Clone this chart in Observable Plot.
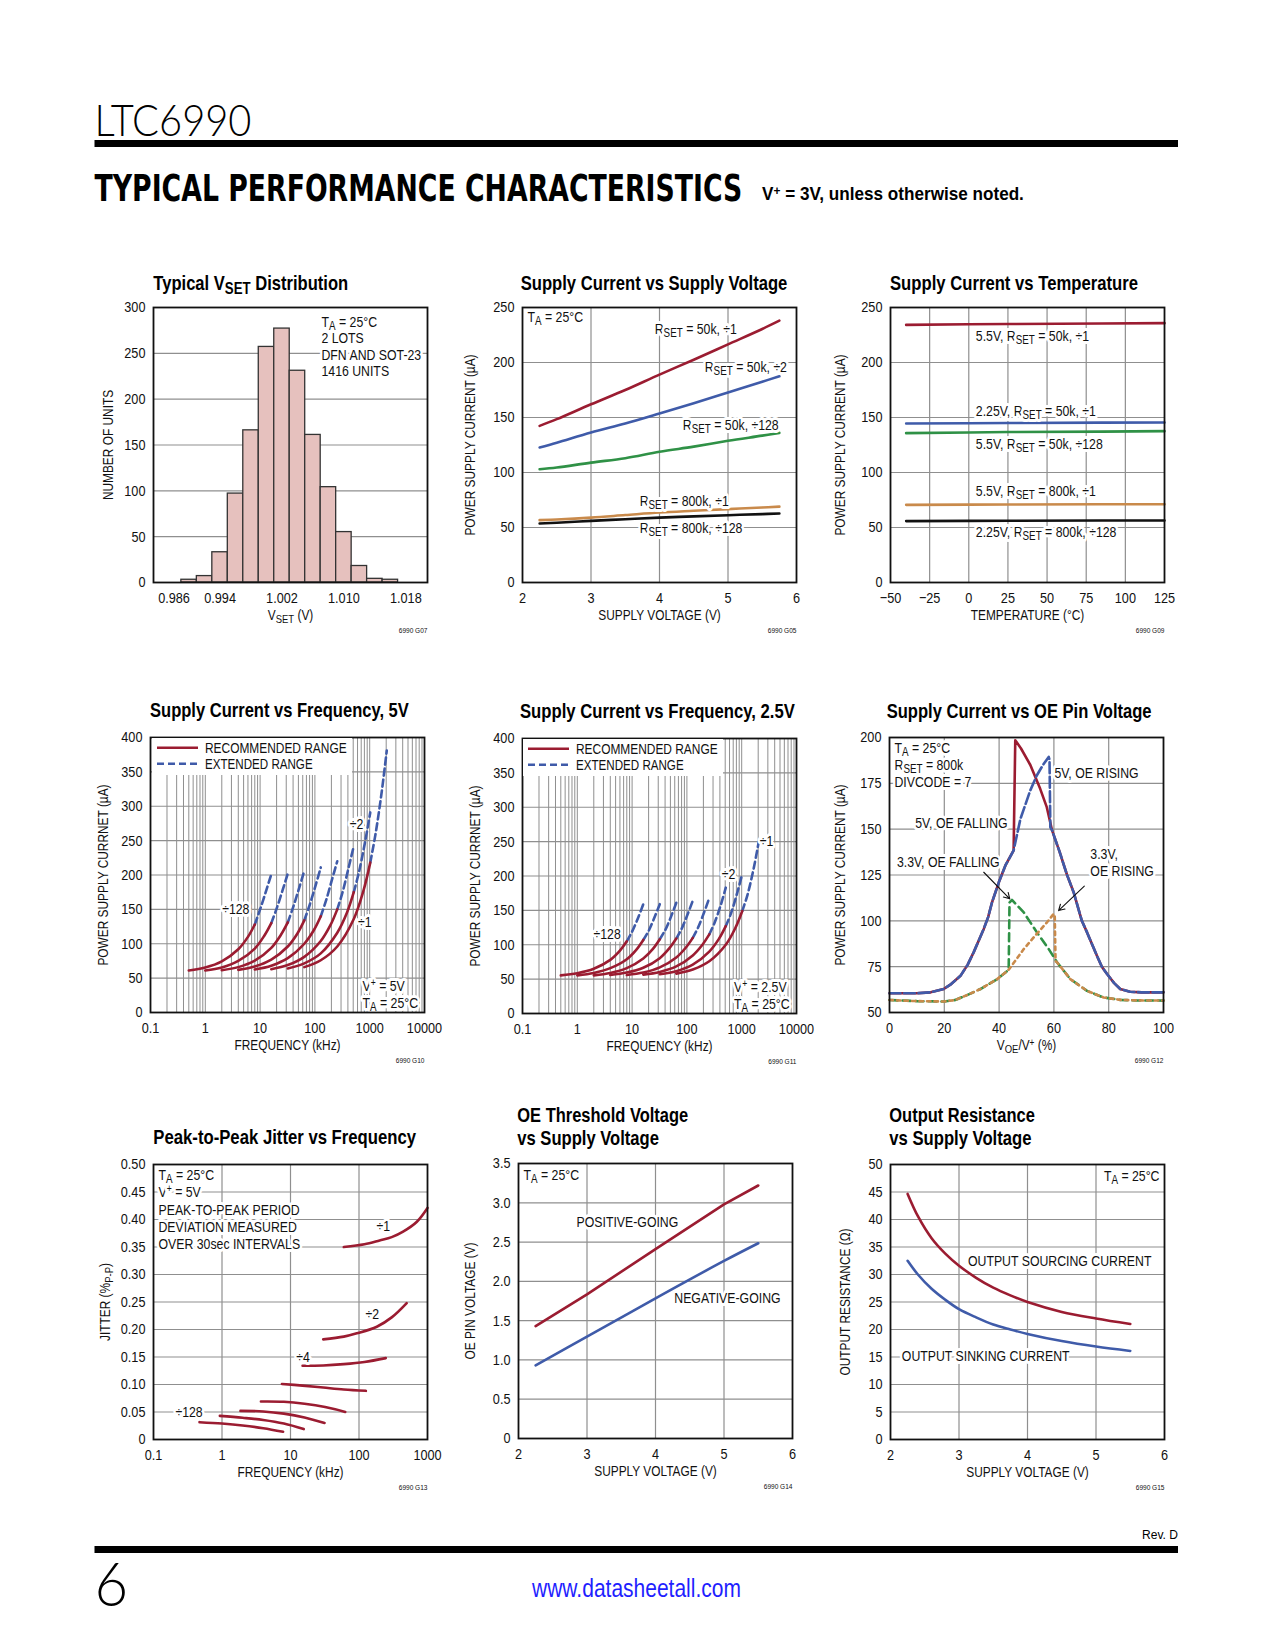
<!DOCTYPE html>
<html>
<head>
<meta charset="utf-8">
<script src="https://cdn.jsdelivr.net/npm/d3@7"></script>
<script src="https://cdn.jsdelivr.net/npm/@observablehq/plot@0.6"></script>
<style>
  html, body { margin: 0; padding: 0; background: #fff; }
  #page { position: relative; width: 1275px; height: 1650px; overflow: hidden; background: #fff;
          font-family: 'Liberation Sans', Arial, sans-serif; color: #111; }
  .legend { position: absolute; background: #fff; }
</style>
</head>
<body>
<div id="page"></div>
<script>
// ---------------- DATA ----------------
// G07 Typical VSET distribution
const vsetBinStart = [0.989, 0.991, 0.993, 0.995, 0.997, 0.999, 1.001, 1.003, 1.005, 1.007, 1.009, 1.011, 1.013, 1.015];
const vsetCount    = [3, 7, 33, 97, 166, 257, 277, 231, 161, 104, 55, 18, 4, 3];
const vsetBinWidth = 0.002;
const vsetTicks    = [0.986, 0.994, 1.002, 1.010, 1.018];
const histYTicks   = [0, 50, 100, 150, 200, 250, 300];

// G05 Supply current vs supply voltage
const supplyV      = [2.25, 2.5, 3, 3.5, 4, 4.5, 5, 5.5, 5.75];
const i50kDiv1     = [142.4, 148.5, 162, 175, 189, 202.5, 216.5, 230.5, 238];
const i50kDiv2     = [122.7, 127, 136.4, 144.5, 153.6, 163, 172.7, 182.5, 187.5];
const i50kDiv128   = [103, 104.5, 109, 113, 118.8, 123.5, 128.8, 133.5, 136];
const i800kDiv1    = [56.7, 57.3, 59, 61.3, 63.6, 65.2, 66.7, 68.2, 69];
const i800kDiv128  = [53.6, 54.3, 56, 57.5, 59, 60.1, 61.2, 62.2, 62.7];
const svXTicks = [2, 3, 4, 5, 6];
const svYTicks = [0, 50, 100, 150, 200, 250];

// G09 Supply current vs temperature
const tempC        = [-40, 0, 25, 85, 125];
const t55v50kDiv1  = [234.2, 234.8, 235, 235.5, 235.8];
const t225v50kDiv1 = [144.5, 144.8, 145, 145.3, 145.5];
const t55v50kDiv128= [135.8, 136.4, 136.8, 137.2, 137.6];
const t55v800kDiv1 = [70.6, 70.8, 70.9, 71.1, 71.2];
const t225v800kDiv128 = [55.8, 56, 56.1, 56.3, 56.4];
const tempXTicks = [-50, -25, 0, 25, 50, 75, 100, 125];

// G10 / G11 Supply current vs frequency
const divCodes = ["÷128", "÷64", "÷32", "÷16", "÷8", "÷4", "÷2", "÷1"];
const freqRec = [
  [0.5, 1, 2, 4, 6, 8], [1, 2, 4, 8, 12, 16], [2, 4, 8, 16, 24, 32], [4, 8, 16, 32, 48, 64],
  [8, 16, 32, 64, 96, 128], [16, 32, 64, 128, 192, 256], [32, 64, 128, 256, 384, 512], [64, 128, 256, 512, 768, 1024]
];
const freqExt = [
  [8, 10, 13, 16], [16, 20, 26, 32], [32, 40, 52, 64], [64, 80, 104, 128],
  [128, 160, 208, 256], [256, 320, 416, 512], [512, 640, 832, 1024], [1024, 1280, 1664, 2048]
];
const i5VRec = [
  [61, 65.5, 74.5, 92, 110, 128], [61, 65.5, 75, 93, 112, 130], [61.5, 66, 75.5, 94, 113, 131], [62, 67, 77, 96, 115, 134],
  [62.5, 68, 79, 100, 120, 140], [63, 69, 81, 104, 127, 150], [64, 71.5, 86, 116, 145, 175], [66, 76, 96, 136, 177, 218]
];
const i5VExt = [
  [128, 150, 178, 201], [130, 151, 179, 202], [131, 153, 182, 206], [134, 156, 186, 211],
  [140, 163, 195, 220], [150, 175, 212, 242], [175, 205, 250, 291], [218, 260, 322, 381]
];
const i25VRec = [
  [55.5, 58.5, 65, 78, 91.5, 105], [55.5, 59, 66, 79, 93, 107], [55.5, 59, 66, 80, 94, 108], [56, 59.5, 66.5, 80.5, 95, 109],
  [56, 59.5, 67, 81.5, 96, 110], [56.5, 60.5, 68.5, 84.5, 100, 115], [57, 61.5, 71, 90, 108.5, 127], [58, 64, 76, 100, 124.5, 149]
];
const i25VExt = [
  [105, 119, 140, 159], [107, 120, 141, 159], [108, 121, 142, 161], [109, 123, 145, 164],
  [110, 125, 148, 168], [115, 132, 158, 183], [127, 146, 176, 203], [149, 173, 212, 250]
];
const freqXTicks = [0.1, 1, 10, 100, 1000, 10000];
const freqYTicks = [0, 50, 100, 150, 200, 250, 300, 350, 400];

// G12 Supply current vs OE pin voltage
const oe5FallX = [0, 10, 15, 19.8, 22.5, 25.9, 28.5, 30.7, 32.5, 34.4, 36, 37.4, 39.9, 42.3, 45.3, 45.9, 48, 51.4, 55, 57.4, 59.3, 62, 64.8, 67.2, 70.2, 72.1, 75.7, 77.5, 79.4, 82, 84.2, 87.8, 92, 100];
const oe5FallI = [60.5, 60.5, 61, 62.8, 65.5, 70, 76, 82.8, 89, 95.6, 102, 110, 121, 130.2, 138.4, 198.5, 194, 185, 172, 162, 149.5, 138, 125, 115.6, 100, 93.7, 81, 75, 71, 66, 62.8, 61.3, 61, 61];
const oe5RiseX = [0, 10, 15, 19.8, 22.5, 25.9, 28.5, 30.7, 32.5, 34.4, 36, 37.4, 39.9, 42.3, 45.3, 47.8, 51.4, 53.8, 56, 58.1, 58.4, 58.7, 59.3, 62, 64.8, 67.2, 70.2, 72.1, 75.7, 77.5, 79.4, 82, 84.2, 87.8, 92, 100];
const oe5RiseI = [60.5, 60.5, 61, 62.8, 65.5, 70, 76, 82.8, 89, 95.6, 102, 110, 121, 130.2, 138.4, 155.7, 171.2, 179.4, 185, 189.4, 188, 151, 149.5, 138, 125, 115.6, 100, 93.7, 81, 75, 71, 66, 62.8, 61.3, 61, 61];
const oe33FallX = [0, 10, 20, 24, 28.3, 33.2, 39.3, 43.1, 43.5, 43.8, 44.7, 49, 53.8, 58.1, 61.2, 66, 72.1, 78.1, 84.2, 90, 100];
const oe33FallI = [56.8, 56.2, 56, 56.8, 59.5, 62.8, 68.2, 72.8, 73.5, 110, 111.4, 104.6, 93.7, 84.6, 77.3, 68.2, 61.8, 58.2, 56.9, 56.6, 56.5];
const oe33RiseX = [0, 10, 20, 24, 28.3, 33.2, 39.3, 43.1, 43.7, 49, 53.8, 57.5, 59.9, 60.3, 60.6, 61.2, 66, 72.1, 78.1, 84.2, 90, 100];
const oe33RiseI = [56.8, 56.2, 56, 56.8, 59.5, 62.8, 68.2, 72.8, 73.7, 84.6, 93, 99.2, 103.8, 103, 78, 77.3, 68.2, 61.8, 58.2, 56.9, 56.6, 56.5];
const oeXTicks = [0, 20, 40, 60, 80, 100];
const oeYTicks = [50, 75, 100, 125, 150, 175, 200];

// G13 Peak-to-peak jitter vs frequency
const jitDivs = ["÷128", "÷64", "÷32", "÷16", "÷8", "÷4", "÷2", "÷1"];
const jitFreq = [
  [0.47, 1, 2, 4, 7.8], [0.93, 2, 4, 8, 15.6], [1.86, 4, 8, 16, 31.4], [3.7, 8, 16, 32, 63],
  [7.5, 15, 30, 60, 126], [15, 30, 60, 120, 246], [30, 60, 93, 182, 300, 497], [60, 120, 200, 300, 440, 700, 1000]
];
const jitVal = [
  [0.0315, 0.029, 0.0255, 0.0205, 0.014], [0.043, 0.0395, 0.0355, 0.029, 0.019], [0.052, 0.051, 0.047, 0.040, 0.030],
  [0.069, 0.0685, 0.065, 0.059, 0.050], [0.101, 0.098, 0.0945, 0.091, 0.0885], [0.134, 0.1345, 0.137, 0.141, 0.148],
  [0.182, 0.187, 0.193, 0.205, 0.222, 0.248], [0.350, 0.355, 0.362, 0.368, 0.378, 0.396, 0.421]
];
const jitXTicks = [0.1, 1, 10, 100, 1000];
const jitYTicks = [0, 0.05, 0.10, 0.15, 0.20, 0.25, 0.30, 0.35, 0.40, 0.45, 0.50];

// G14 OE threshold voltage vs supply voltage
const oeThV   = [2.25, 3, 4, 5, 5.5];
const oePos   = [1.43, 1.835, 2.41, 2.98, 3.22];
const oeNeg   = [0.93, 1.296, 1.784, 2.26, 2.485];
const oeThYTicks = [0, 0.5, 1.0, 1.5, 2.0, 2.5, 3.0, 3.5];

// G15 Output resistance vs supply voltage
const rV      = [2.25, 2.4, 2.6, 2.8, 3.0, 3.25, 3.5, 3.75, 4.0, 4.5, 5.0, 5.5];
const rSource = [44.65, 40.6, 36.6, 33.8, 31.6, 29.4, 27.6, 26.2, 25.0, 23.2, 22.0, 21.0];
const rSink   = [32.5, 30.0, 27.4, 25.4, 23.7, 22.2, 20.9, 20.0, 19.2, 17.9, 16.9, 16.1];
const rYTicks = [0, 5, 10, 15, 20, 25, 30, 35, 40, 45, 50];

// annotations (data units)
const vsetNote = [{x: 1.0071, y: 292, text: "T_{A} = 25°C\n2 LOTS\nDFN AND SOT-23\n1416 UNITS"}];
const svLabels = [
  {x: 3.93, y: 230, text: "R_{SET} = 50k, ÷1"},
  {x: 4.66, y: 195.5, text: "R_{SET} = 50k, ÷2"},
  {x: 4.34, y: 143, text: "R_{SET} = 50k, ÷128"},
  {x: 3.71, y: 74, text: "R_{SET} = 800k, ÷1"},
  {x: 3.71, y: 49, text: "R_{SET} = 800k, ÷128"}
];
const tempLabels = [
  {x: 4.5, y: 224, text: "5.5V, R_{SET} = 50k, ÷1"},
  {x: 4.5, y: 156, text: "2.25V, R_{SET} = 50k, ÷1"},
  {x: 4.5, y: 126, text: "5.5V, R_{SET} = 50k, ÷128"},
  {x: 4.5, y: 82.7, text: "5.5V, R_{SET} = 800k, ÷1"},
  {x: 4.5, y: 45.5, text: "2.25V, R_{SET} = 800k, ÷128"}
];
const f5Labels = [{x: 3.6, y: 150, text: "÷128"}, {x: 573, y: 274, text: "÷2"}, {x: 811, y: 131, text: "÷1"}];
const f25Labels = [{x: 3.5, y: 116, text: "÷128"}, {x: 573, y: 202, text: "÷2"}, {x: 2850, y: 250, text: "÷1"}];
const oeLabelsStart = [
  {x: 60.2, y: 180.9, text: "5V, OE RISING"},
  {x: 73.3, y: 132.3, text: "3.3V,\nOE RISING"}
];
const oeLabelsEnd = [
  {x: 43.1, y: 153.5, text: "5V, OE FALLING"},
  {x: 40.2, y: 132, text: "3.3V, OE FALLING"}
];
const oeArrows = [
  {x1: 34.4, y1: 126.5, x2: 43.9, y2: 112},
  {x1: 71.1, y1: 118.9, x2: 61.7, y2: 105.6}
];
const jitLabels = [
  {x: 226, y: 0.388, text: "÷1"}, {x: 157, y: 0.228, text: "÷2"},
  {x: 15.2, y: 0.150, text: "÷4"}, {x: 0.33, y: 0.050, text: "÷128"}
];
const oeThLabels = [{x: 3.59, y: 2.75, text: "POSITIVE-GOING"}, {x: 5.05, y: 1.79, text: "NEGATIVE-GOING"}];
const rLabels = [{x: 4.47, y: 32.5, text: "OUTPUT SOURCING CURRENT"}, {x: 3.39, y: 15.2, text: "OUTPUT SINKING CURRENT"}];

// ---------------- STYLE / HELPERS ----------------
const FONT = "'Liberation Sans', Arial, sans-serif";
const NARROW = 0.82;   // Arial -> Arial Narrow horizontal ratio
const RED = "#9b1c31", BLUE = "#3f5ba9", GREEN = "#2f9146", ORANGE = "#c98a4b", BLACK = "#111", GRID = "#8f8f8f";
const ML = 64, MR = 16, MT = 12, MB = 62, FW = 274, FH = 275;
const page = document.getElementById("page");
const halo = {fill: "#111", stroke: "white", strokeWidth: 6, paintOrder: "stroke", strokeLinejoin: "round", fontSize: 15};
const haloBig = {...halo, strokeWidth: 6};
const lw = 2.6;
const SVGNS = "http://www.w3.org/2000/svg";

// convert _{..} / ^{..} markup into shifted tspans (element must be in the DOM)
function richText(root) {
  root.querySelectorAll("text, tspan").forEach(el => {
    if (el.children.length) return;
    const s = el.textContent;
    if (!/[_^]\{/.test(s)) return;
    const fs = parseFloat(getComputedStyle(el).fontSize) || 14;
    el.textContent = "";
    let offset = 0, last = 0, m;
    const add = (txt, shift, small) => {
      const t = document.createElementNS(SVGNS, "tspan");
      const dy = shift - offset;
      if (dy !== 0) t.setAttribute("dy", dy.toFixed(2));
      if (small) t.setAttribute("font-size", (fs * small).toFixed(2) + "px");
      t.textContent = txt;
      el.appendChild(t);
      offset = shift;
    };
    const re = /([_^])\{([^}]*)\}/g;
    while ((m = re.exec(s))) {
      if (m.index > last) add(s.slice(last, m.index), 0, 0);
      if (m[1] === "_") add(m[2], 0.2 * fs, 0.8);
      else add(m[2], -0.32 * fs, 0.7);
      last = re.lastIndex;
    }
    if (last < s.length) add(s.slice(last), 0, 0);
  });
}
// horizontally condense text about its anchor point
function condense(el, s) {
  const x = parseFloat(el.getAttribute("x")) || 0, y = parseFloat(el.getAttribute("y")) || 0;
  const tr = el.getAttribute("transform") || "";
  el.setAttribute("transform", `${tr} translate(${x},${y}) scale(${s},1) translate(${-x},${-y})`);
}
function fitWidth(el, target) {
  const w = el.getComputedTextLength();
  if (w > 0) condense(el, target / w);
}

function decoMarks(xlab, ylab, yoff, id) {
  return [
    Plot.text([xlab], {frameAnchor: "bottom", dy: 33, text: d => d, textAnchor: "middle", lineAnchor: "middle", fontSize: 14.5, fill: "#111"}),
    Plot.text([ylab], {frameAnchor: "left", dx: -yoff, rotate: -90, text: d => d, textAnchor: "middle", lineAnchor: "middle", fontSize: 14.5, fill: "#111"}),
    Plot.text([id], {frameAnchor: "bottom-right", dy: 48, text: d => d, textAnchor: "end", lineAnchor: "middle", fontSize: 8, fill: "#111"}),
    Plot.frame({stroke: "#111", strokeWidth: 1.8})
  ];
}

function chart(frameL, frameT, opts, marks, deco) {
  const svg = Plot.plot({
    width: ML + FW + MR, height: MT + FH + MB,
    marginLeft: ML, marginRight: MR, marginTop: MT, marginBottom: MB,
    style: {fontFamily: FONT, fontSize: "15.5px", color: "#111", background: "transparent", overflow: "visible", maxWidth: "none"},
    ...opts,
    marks: [...marks, ...decoMarks(...deco)]
  });
  svg.style.position = "absolute";
  svg.style.left = (frameL - ML) + "px";
  svg.style.top = (frameT - MT) + "px";
  page.appendChild(svg);
  richText(svg);
  svg.querySelectorAll("text").forEach(t => condense(t, NARROW));
  return svg;
}
const axX = (ticks, fmt) => ({ticks, tickSize: 0, tickPadding: 9, label: null, ...(fmt ? {tickFormat: fmt} : {})});
const axY = (ticks, fmt) => ({ticks, tickSize: 0, tickPadding: 8, label: null, ...(fmt ? {tickFormat: fmt} : {})});
const gridStyle = {stroke: GRID, strokeWidth: 1.2};
const inner = arr => arr.slice(1, -1);
const plain = d => String(d);

function seriesRows(xs, ys) { return xs.map((x, i) => ({x, y: ys[i]})); }
function freqRows(freqs, currents) {
  return divCodes.flatMap((div, i) => freqs[i].map((f, j) => ({div, f, I: currents[i][j]})));
}

// ---------------- CHROME (header, titles, footer) ----------------
const titles = [
  {x: 153.3, y: 290, L: 195, t: "Typical V_{SET} Distribution"},
  {x: 520.7, y: 290, L: 267, t: "Supply Current vs Supply Voltage"},
  {x: 890, y: 290, L: 248, t: "Supply Current vs Temperature"},
  {x: 150, y: 717.5, L: 259, t: "Supply Current vs Frequency, 5V"},
  {x: 520, y: 718.5, L: 275, t: "Supply Current vs Frequency, 2.5V"},
  {x: 886.7, y: 718, L: 265, t: "Supply Current vs OE Pin Voltage"},
  {x: 153.3, y: 1144, L: 263, t: "Peak-to-Peak Jitter vs Frequency"},
  {x: 517.3, y: 1122.3, L: 171, t: "OE Threshold Voltage"},
  {x: 517.3, y: 1145, L: 141.7, t: "vs Supply Voltage"},
  {x: 889.3, y: 1122.3, L: 145.7, t: "Output Resistance"},
  {x: 889.3, y: 1145, L: 142.3, t: "vs Supply Voltage"}
];
const chrome = document.createElementNS(SVGNS, "svg");
chrome.setAttribute("width", 1275); chrome.setAttribute("height", 1650);
chrome.style.cssText = "position:absolute;left:0;top:0";
page.appendChild(chrome);
function chromeText(x, y, str, attrs, width) {
  const t = document.createElementNS(SVGNS, "text");
  t.setAttribute("x", x); t.setAttribute("y", y);
  t.setAttribute("font-family", FONT);
  for (const [k, v] of Object.entries(attrs)) t.setAttribute(k, v);
  t.textContent = str;
  chrome.appendChild(t);
  richText(chrome);
  if (width) fitWidth(t, width);
  return t;
}
function chromeRect(x, y, w, h) {
  const r = document.createElementNS(SVGNS, "rect");
  r.setAttribute("x", x); r.setAttribute("y", y); r.setAttribute("width", w); r.setAttribute("height", h);
  r.setAttribute("fill", "#000");
  chrome.appendChild(r);
}
chromeText(94.5, 136.5, "LTC6990", {"font-family": "Lato, 'DejaVu Sans', sans-serif", "font-weight": 300, "font-size": 44}, 157);
chromeRect(94.5, 140, 1083.5, 7);
chromeText(94.5, 201.5, "TYPICAL PERFORMANCE CHARACTERISTICS", {"font-family": "'DejaVu Sans', sans-serif", "font-weight": "bold", "font-size": 37}, 648);
chromeText(762, 200.5, "V^{+} = 3V, unless otherwise noted.", {"font-weight": "bold", "font-size": 18}, 262);
titles.forEach(d => chromeText(d.x, d.y, d.t, {"font-weight": "bold", "font-size": 20}, d.L));
chromeText(1178, 1539, "Rev. D", {"text-anchor": "end", "font-size": 13}, 36);
chromeRect(94.5, 1546, 1083.5, 7);
chromeText(94.5, 1606, "6", {"font-family": "Lato, 'DejaVu Sans', sans-serif", "font-weight": 300, "font-size": 61}, 33.6);
chromeText(636.5, 1597, "www.datasheetall.com", {"text-anchor": "middle", "fill": "#1f1fff", "font-size": 25}, 209);

// ---------------- CHARTS ----------------
// G07
const histSvg = chart(153.3, 307.3, {
  x: {domain: [0.9854, 1.0208], ...axX(vsetTicks, d3.format(".3f"))},
  y: {domain: [0, 300], ...axY(histYTicks)}
}, [
  Plot.ruleY(inner(histYTicks), gridStyle),
  Plot.rectY(vsetCount.map((count, i) => ({x1: vsetBinStart[i], x2: vsetBinStart[i] + vsetBinWidth, count})),
    {x1: "x1", x2: "x2", y: "count", fill: "#e6c1be", stroke: "#333", strokeWidth: 1.3}),
  Plot.text(vsetNote, {x: "x", y: "y", text: "text", textAnchor: "start", lineAnchor: "top", lineHeight: 1.1, ...haloBig})
], ["V_{SET} (V)", "NUMBER OF UNITS", 45, "6990 G07"]);
// the first tick label sits inside the frame, as in the original
histSvg.querySelectorAll("text").forEach(t => { if (t.textContent === d3.format(".3f")(vsetTicks[0])) t.setAttribute("text-anchor", "start"); });

// G05
const svSeries = [
  {ys: i50kDiv1, c: RED}, {ys: i50kDiv2, c: BLUE}, {ys: i50kDiv128, c: GREEN},
  {ys: i800kDiv1, c: ORANGE}, {ys: i800kDiv128, c: BLACK}
];
chart(521.7, 306.7, {
  x: {domain: [2, 6], ...axX(svXTicks, plain)},
  y: {domain: [0, 250], ...axY(svYTicks)}
}, [
  Plot.ruleX(inner(svXTicks), gridStyle),
  Plot.ruleY(inner(svYTicks), gridStyle),
  ...svSeries.map(s => Plot.line(seriesRows(supplyV, s.ys), {x: "x", y: "y", stroke: s.c, strokeWidth: lw, curve: "catmull-rom"})),
  Plot.text(svLabels, {x: "x", y: "y", text: "text", textAnchor: "start", lineAnchor: "middle", ...halo}),
  Plot.text(["T_{A} = 25°C"], {frameAnchor: "top-left", dx: 5, dy: 4, textAnchor: "start", lineAnchor: "top", ...halo})
], ["SUPPLY VOLTAGE (V)", "POWER SUPPLY CURRENT (µA)", 52, "6990 G05"]);

// G09
const tSeries = [
  {ys: t55v50kDiv1, c: RED}, {ys: t225v50kDiv1, c: BLUE}, {ys: t55v50kDiv128, c: GREEN},
  {ys: t55v800kDiv1, c: ORANGE}, {ys: t225v800kDiv128, c: BLACK}
];
chart(890, 307, {
  x: {domain: [-50, 125], ...axX(tempXTicks)},
  y: {domain: [0, 250], ...axY(svYTicks)}
}, [
  Plot.ruleX(inner(tempXTicks), gridStyle),
  Plot.ruleY(inner(svYTicks), gridStyle),
  ...tSeries.map(s => Plot.line(seriesRows(tempC, s.ys), {x: "x", y: "y", stroke: s.c, strokeWidth: lw})),
  Plot.text(tempLabels, {x: "x", y: "y", text: "text", textAnchor: "start", lineAnchor: "middle", ...halo})
], ["TEMPERATURE (°C)", "POWER SUPPLY CURRENT (µA)", 50, "6990 G09"]);

// G10 / G11
const logGrid = d3.scaleLog().domain([0.1, 10000]).ticks().filter(t => t > 0.1 && t < 10000);
function freqChart(frameL, frameT, rec, ext, labels, cond, condDx, id) {
  chart(frameL, frameT, {
    x: {type: "log", domain: [0.1, 10000], ...axX(freqXTicks, plain)},
    y: {domain: [0, 400], ...axY(freqYTicks)}
  }, [
    Plot.ruleX(logGrid, {stroke: GRID, strokeWidth: 1}),
    Plot.ruleY(inner(freqYTicks), gridStyle),
    Plot.line(freqRows(freqExt, ext), {x: "f", y: "I", z: "div", stroke: BLUE, strokeWidth: lw, strokeDasharray: "7,4", curve: "catmull-rom"}),
    Plot.line(freqRows(freqRec, rec), {x: "f", y: "I", z: "div", stroke: RED, strokeWidth: lw, curve: "catmull-rom"}),
    Plot.text(labels, {x: "x", y: "y", text: "text", textAnchor: "middle", lineAnchor: "middle", ...halo}),
    Plot.text([cond], {frameAnchor: "bottom-right", dx: condDx, dy: -5, textAnchor: "start", lineAnchor: "bottom", lineHeight: 1.13, ...haloBig})
  ], ["FREQUENCY (kHz)", "POWER SUPPLY CURRNET (µA)", 47, id]);
  // legend box
  const lg = document.createElement("div");
  lg.className = "legend";
  lg.style.left = (frameL + 1.5) + "px";
  lg.style.top = (frameT + 1.5) + "px";
  lg.style.width = "200px";
  lg.style.height = "37px";
  lg.innerHTML = `<svg width="200" height="37" font-family="${FONT.replace(/"/g, "")}" font-size="14.5">
    <line x1="5" x2="46" y1="9.8" y2="9.8" stroke="${RED}" stroke-width="${lw}"/>
    <text x="53" y="15" fill="#111">RECOMMENDED RANGE</text>
    <line x1="5" x2="46" y1="25.8" y2="25.8" stroke="${BLUE}" stroke-width="${lw}" stroke-dasharray="7,4"/>
    <text x="53" y="31" fill="#111">EXTENDED RANGE</text></svg>`;
  page.appendChild(lg);
  const [t1, t2] = lg.querySelectorAll("text");
  fitWidth(t1, 141.7); fitWidth(t2, 107.7);
}
freqChart(150, 736.7, i5VRec, i5VExt, f5Labels, "V^{+} = 5V\nT_{A} = 25°C", -62, "6990 G10");
freqChart(521.7, 737.7, i25VRec, i25VExt, f25Labels, "V^{+} = 2.5V\nT_{A} = 25°C", -62.4, "6990 G11");

// G12
chart(889, 737.3, {
  x: {domain: [0, 100], ...axX(oeXTicks)},
  y: {domain: [50, 200], ...axY(oeYTicks)}
}, [
  Plot.ruleX(inner(oeXTicks), gridStyle),
  Plot.ruleY(inner(oeYTicks), gridStyle),
  Plot.text(oeLabelsStart, {x: "x", y: "y", text: "text", textAnchor: "start", lineAnchor: "middle", lineHeight: 1.13, ...halo}),
  Plot.text(oeLabelsEnd, {x: "x", y: "y", text: "text", textAnchor: "end", lineAnchor: "middle", ...halo}),
  Plot.text(["T_{A} = 25°C\nR_{SET} = 800k\nDIVCODE = 7"], {frameAnchor: "top-left", dx: 5, dy: 3, textAnchor: "start", lineAnchor: "top", lineHeight: 1.14, ...haloBig}),
  Plot.line(seriesRows(oe5FallX, oe5FallI), {x: "x", y: "y", stroke: RED, strokeWidth: lw}),
  Plot.line(seriesRows(oe5RiseX, oe5RiseI), {x: "x", y: "y", stroke: BLUE, strokeWidth: lw, strokeDasharray: "11,3.5"}),
  Plot.line(seriesRows(oe33FallX, oe33FallI), {x: "x", y: "y", stroke: GREEN, strokeWidth: lw, strokeDasharray: "8,5"}),
  Plot.line(seriesRows(oe33RiseX, oe33RiseI), {x: "x", y: "y", stroke: ORANGE, strokeWidth: lw, strokeDasharray: "3.5,4"}),
  Plot.arrow(oeArrows, {x1: "x1", y1: "y1", x2: "x2", y2: "y2", stroke: "#111", strokeWidth: 1.1, headLength: 9})
], ["V_{OE}/V^{+} (%)", "POWER SUPPLY CURRENT (µA)", 49, "6990 G12"]);

// G13
const jitRows = jitDivs.flatMap((div, i) => jitFreq[i].map((f, j) => ({div, f, j: jitVal[i][j]})));
chart(152.7, 1164.3, {
  x: {type: "log", domain: [0.1, 1000], ...axX(jitXTicks, plain)},
  y: {domain: [0, 0.5], ...axY(jitYTicks, d => d === 0 ? "0" : d3.format(".2f")(d))}
}, [
  Plot.ruleX(inner(jitXTicks), gridStyle),
  Plot.ruleY(inner(jitYTicks), gridStyle),
  Plot.text(["T_{A} = 25°C\nV^{+} = 5V\nPEAK-TO-PEAK PERIOD\nDEVIATION MEASURED\nOVER 30sec INTERVALS"],
    {frameAnchor: "top-left", dx: 5, dy: 3, textAnchor: "start", lineAnchor: "top", lineHeight: 1.16, ...haloBig}),
  Plot.line(jitRows, {x: "f", y: "j", z: "div", stroke: RED, strokeWidth: lw, curve: "catmull-rom"}),
  Plot.text(jitLabels, {x: "x", y: "y", text: "text", textAnchor: "middle", lineAnchor: "middle", ...halo})
], ["FREQUENCY (kHz)", "JITTER (%_{P-P})", 48, "6990 G13"]);

// G14
chart(517.7, 1162.7, {
  x: {domain: [2, 6], ...axX(svXTicks, plain)},
  y: {domain: [0, 3.5], ...axY(oeThYTicks, d => d === 0 ? "0" : d.toFixed(1))}
}, [
  Plot.ruleX(inner(svXTicks), gridStyle),
  Plot.ruleY(inner(oeThYTicks), gridStyle),
  Plot.line(seriesRows(oeThV, oePos), {x: "x", y: "y", stroke: RED, strokeWidth: lw}),
  Plot.line(seriesRows(oeThV, oeNeg), {x: "x", y: "y", stroke: BLUE, strokeWidth: lw, curve: "catmull-rom"}),
  Plot.text(oeThLabels, {x: "x", y: "y", text: "text", textAnchor: "middle", lineAnchor: "middle", ...halo}),
  Plot.text(["T_{A} = 25°C"], {frameAnchor: "top-left", dx: 5, dy: 6, textAnchor: "start", lineAnchor: "top", ...halo})
], ["SUPPLY VOLTAGE (V)", "OE PIN VOLTAGE (V)", 48.5, "6990 G14"]);

// G15
chart(890.3, 1164, {
  x: {domain: [2, 6], ...axX(svXTicks, plain)},
  y: {domain: [0, 50], ...axY(rYTicks)}
}, [
  Plot.ruleX(inner(svXTicks), gridStyle),
  Plot.ruleY(inner(rYTicks), gridStyle),
  Plot.line(seriesRows(rV, rSource), {x: "x", y: "y", stroke: RED, strokeWidth: lw, curve: "catmull-rom"}),
  Plot.line(seriesRows(rV, rSink), {x: "x", y: "y", stroke: BLUE, strokeWidth: lw, curve: "catmull-rom"}),
  Plot.text(rLabels, {x: "x", y: "y", text: "text", textAnchor: "middle", lineAnchor: "middle", ...halo}),
  Plot.text(["T_{A} = 25°C"], {frameAnchor: "top-right", dx: -5, dy: 6, textAnchor: "end", lineAnchor: "top", ...halo})
], ["SUPPLY VOLTAGE (V)", "OUTPUT RESISTANCE (Ω)", 45, "6990 G15"]);
</script>
</body>
</html>
